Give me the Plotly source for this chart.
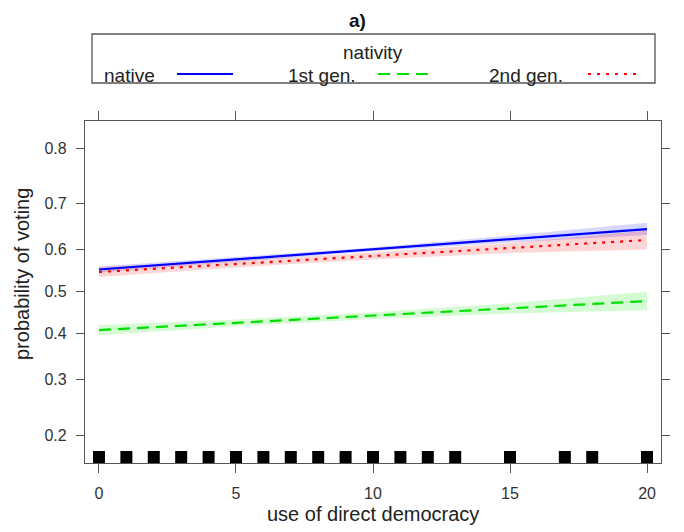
import numpy as np
import plotly.graph_objects as go

# ---------------- data ----------------
x_vals = [0, 5, 10, 15, 20]

native_fit = [0.553, 0.577, 0.601, 0.624, 0.6465]
native_lower = [0.546, 0.572, 0.596, 0.616, 0.633]
native_upper = [0.560, 0.582, 0.605, 0.632, 0.660]

gen1_fit = [0.408, 0.425, 0.442, 0.4595, 0.477]
gen1_lower = [0.396, 0.417, 0.434, 0.447, 0.455]
gen1_upper = [0.420, 0.433, 0.450, 0.472, 0.500]

gen2_fit = [0.547, 0.566, 0.585, 0.6035, 0.622]
gen2_lower = [0.535, 0.558, 0.577, 0.592, 0.600]
gen2_upper = [0.559, 0.574, 0.593, 0.615, 0.643]

rug_x = [0, 1, 2, 3, 4, 5, 6, 7, 8, 9, 10, 11, 12, 13, 15, 17, 18, 20]

y_tick_labels = [0.2, 0.3, 0.4, 0.5, 0.6, 0.7, 0.8]
x_tick_labels = [0, 5, 10, 15, 20]
y_limits = [0.1603, 0.8385]
x_limits = [-0.51, 20.51]

series_names = ["native", "1st gen.", "2nd gen."]
legend_title = "nativity"
panel_title = "a)"
x_title = "use of direct democracy"
y_title = "probability of voting"


def logit(p):
    p = np.asarray(p, dtype=float)
    return np.log(p / (1 - p))


# ---------------- layout helpers (reference pixel -> paper) ----------------
OFF = 8  # page body margin of the browser
W, H = 684 - OFF, 532 - OFF
L, T = 85 - OFF, 121 - OFF
R = W - (661 - OFF)
B = H - (463 - OFF)
PW, PH = W - L - R, H - T - B


def px(x):
    return (x - OFF - L) / PW


def py(y):
    return (H - B - (y - OFF)) / PH


FONT = "Liberation Sans, Arial, sans-serif"
AXC = "#555555"

styles = [
    dict(color="#0000FF", dash="solid", band="rgba(0,0,255,0.16)"),
    dict(color="#00E000", dash="12px,7px", band="rgba(0,230,0,0.17)"),
    dict(color="#FF0000", dash="3px,6px", band="rgba(255,0,0,0.16)"),
]
fits = [native_fit, gen1_fit, gen2_fit]
lowers = [native_lower, gen1_lower, gen2_lower]
uppers = [native_upper, gen1_upper, gen2_upper]

fig = go.Figure()

for name, f, lo, up, st in zip(series_names, fits, lowers, uppers, styles):
    fig.add_trace(go.Scatter(
        x=x_vals + x_vals[::-1],
        y=np.concatenate([logit(up), logit(lo)[::-1]]),
        fill="toself", fillcolor=st["band"], line=dict(width=0),
        mode="lines", hoverinfo="skip", showlegend=False,
    ))

for name, f, st in zip(series_names, fits, styles):
    fig.add_trace(go.Scatter(
        x=x_vals, y=logit(f), mode="lines", name=name,
        line=dict(color=st["color"], width=2.2, dash=st["dash"]),
        showlegend=False,
    ))

# rug
fig.add_trace(go.Scatter(
    x=rug_x, y=[6 / PH] * len(rug_x), mode="markers", yaxis="y2",
    marker=dict(symbol="square", size=12, color="black", line=dict(width=0)),
    cliponaxis=False, showlegend=False, hoverinfo="skip",
))

axis_common = dict(
    showline=True, linecolor=AXC, linewidth=1.3, mirror="allticks",
    ticks="outside", tickcolor=AXC, tickwidth=1.3,
    showgrid=False, zeroline=False,
    tickfont=dict(family=FONT, size=16, color="#333333"),
)

fig.update_layout(
    width=W, height=H,
    margin=dict(l=L, r=R, t=T, b=B, pad=0),
    paper_bgcolor="white", plot_bgcolor="white",
    showlegend=False,
    xaxis=dict(range=x_limits, tickvals=x_tick_labels,
               ticktext=[str(v) for v in x_tick_labels],
               ticklen=9, ticklabelstandoff=7, **axis_common),
    yaxis=dict(range=list(logit(y_limits)), tickvals=list(logit(y_tick_labels)),
               ticktext=[f"{v:.1f}" for v in y_tick_labels],
               ticklen=8, ticklabelstandoff=6, **axis_common),
    yaxis2=dict(overlaying="y", range=[0, 1], visible=False),
)

# ---------------- legend box & titles ----------------
shapes = [
    dict(type="rect", xref="paper", yref="paper",
         x0=px(92), x1=px(655), y0=py(83), y1=py(34),
         line=dict(color=AXC, width=1.3), fillcolor="rgba(0,0,0,0)"),
]
key_pos = [(177, 233, 74), (378, 428, 74), (588, 640, 74)]
for (x0, x1, yy), st in zip(key_pos, styles):
    shapes.append(dict(type="line", xref="paper", yref="paper",
                       x0=px(x0), x1=px(x1), y0=py(yy), y1=py(yy),
                       line=dict(color=st["color"], width=2.2, dash=st["dash"])))
fig.update_layout(shapes=shapes)

text_pos = [(102, "left"), (358, "right"), (565, "right")]
annotations = []
for (xx, anc), name in zip(text_pos, series_names):
    annotations.append(dict(text=name, xref="paper", yref="paper",
                            x=px(xx), y=py(75.5), xanchor=anc, yanchor="middle",
                            showarrow=False,
                            font=dict(family=FONT, size=19, color="#222222")))
annotations += [
    dict(text=legend_title, xref="paper", yref="paper", x=px(373), y=py(52),
         xanchor="center", yanchor="middle", showarrow=False,
         font=dict(family=FONT, size=19, color="#222222")),
    dict(text="<b>" + panel_title + "</b>", xref="paper", yref="paper",
         x=px(357), y=py(20), xanchor="center", yanchor="middle", showarrow=False,
         font=dict(family=FONT, size=19, color="#111111")),
    dict(text=x_title, xref="paper", yref="paper", x=px(373), y=py(514),
         xanchor="center", yanchor="middle", showarrow=False,
         font=dict(family=FONT, size=20, color="#222222")),
    dict(text=y_title, xref="paper", yref="paper", x=px(22), y=py(274),
         xanchor="center", yanchor="middle", showarrow=False, textangle=-90,
         font=dict(family=FONT, size=20, color="#222222")),
]
fig.update_layout(annotations=annotations)

fig.write_html("out.html")
